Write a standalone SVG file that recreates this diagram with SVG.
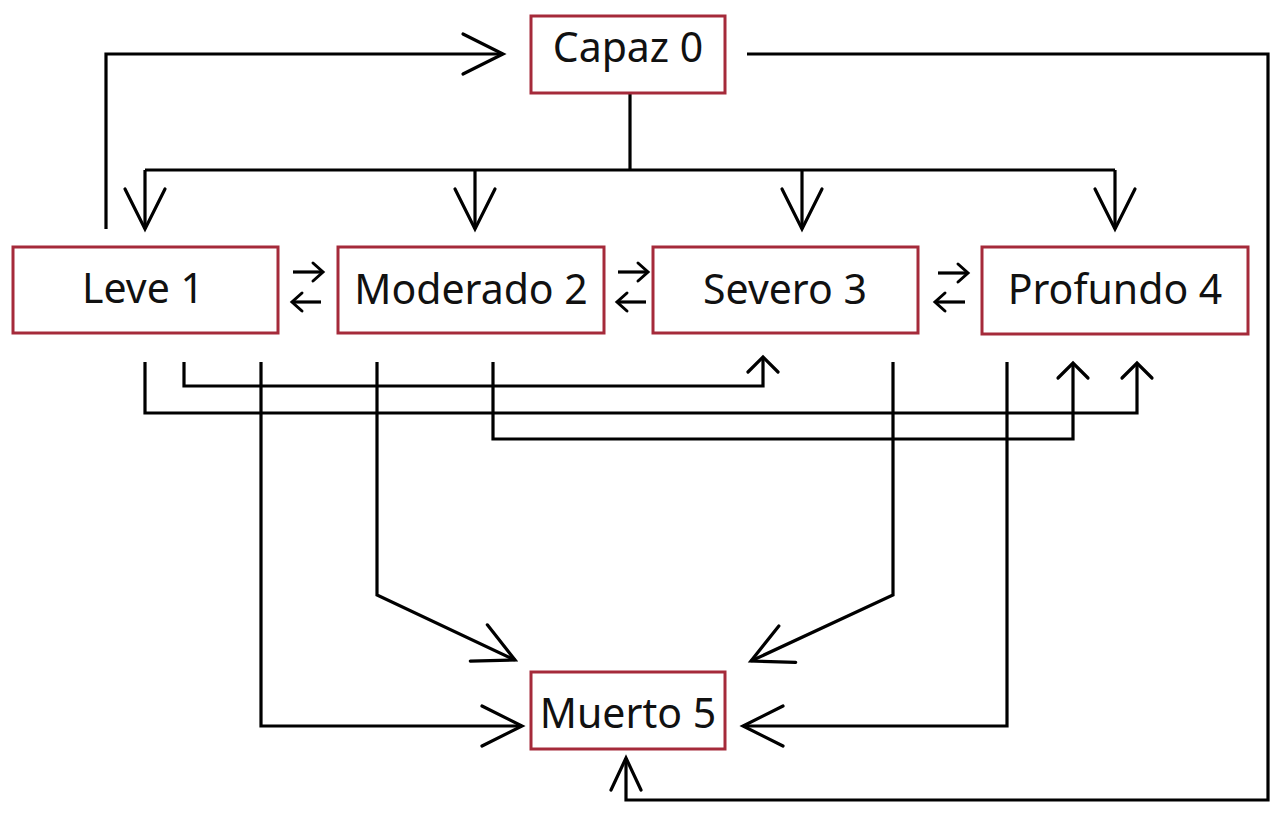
<svg xmlns="http://www.w3.org/2000/svg" width="1280" height="832" viewBox="0 0 1280 832">
<style>
.box{fill:#ffffff;stroke:#a52a3a;stroke-width:3}
.lbl{font-family:"Noto Sans","Liberation Sans",sans-serif;font-size:41px;font-weight:400;fill:#111111;text-anchor:middle}
.c{fill:none;stroke:#000000;stroke-width:3.2;stroke-linejoin:miter}
.big{marker-end:url(#big)}
.med{marker-end:url(#med)}
.sm{marker-end:url(#sm)}
.xs{marker-end:url(#xs)}
</style>
<defs>
<marker id="big" markerUnits="userSpaceOnUse" viewBox="-44 -24 48 48" markerWidth="48" markerHeight="48" refX="0" refY="0" orient="auto" overflow="visible">
<path d="M-40,-20 L0,0 L-40,20" fill="none" stroke="#000" stroke-width="3.2" stroke-linecap="round"/>
</marker>
<marker id="med" markerUnits="userSpaceOnUse" viewBox="-36 -20 40 40" markerWidth="40" markerHeight="40" refX="0" refY="0" orient="auto" overflow="visible">
<path d="M-32,-15 L0,0 L-32,15" fill="none" stroke="#000" stroke-width="3.2" stroke-linecap="round"/>
</marker>
<marker id="sm" markerUnits="userSpaceOnUse" viewBox="-20 -20 24 40" markerWidth="24" markerHeight="40" refX="0" refY="0" orient="auto" overflow="visible">
<path d="M-15,-15 L0,0 L-15,15" fill="none" stroke="#000" stroke-width="3.2" stroke-linecap="round"/>
</marker>
<marker id="xs" markerUnits="userSpaceOnUse" viewBox="-14 -12 18 24" markerWidth="18" markerHeight="24" refX="0" refY="0" orient="auto" overflow="visible">
<path d="M-10,-9 L0,0 L-10,9" fill="none" stroke="#000" stroke-width="3" stroke-linecap="round"/>
</marker>
</defs>
<rect width="1280" height="832" fill="#ffffff"/>
<g id="connectors">
<path class="c big" d="M106,229 V54 H503"/>
<path class="c med" d="M747,54 H1268 V800 H626 V758"/>
<path class="c" d="M630,93 V170"/>
<path class="c" d="M145,170 H1115"/>
<path class="c big" d="M145,170 V229"/>
<path class="c big" d="M475,170 V229"/>
<path class="c big" d="M802,170 V229"/>
<path class="c big" d="M1115,170 V229"/>
<path class="c xs" d="M293,272 H323"/>
<path class="c xs" d="M321,302 H292"/>
<path class="c xs" d="M618,272 H648"/>
<path class="c xs" d="M646,302 H617"/>
<path class="c xs" d="M938,273 H968"/>
<path class="c xs" d="M965,302 H935"/>
<path class="c sm" d="M145,362 V413 H1137 V363"/>
<path class="c sm" d="M184,362 V386 H763 V357"/>
<path class="c big" d="M261,362 V726 H522"/>
<path class="c big" d="M377,362 V595 L515,660"/>
<path class="c sm" d="M493,362 V439 H1073 V363"/>
<path class="c big" d="M893,362 V595 L751,661"/>
<path class="c big" d="M1007,362 V726 H743"/>
</g>
<g id="capaz0">
<rect class="box" x="531" y="16" width="194" height="77"/>
<text class="lbl" x="628" y="62">Capaz 0</text>
</g>
<g id="leve1">
<rect class="box" x="13" y="247" width="265" height="86"/>
<text class="lbl" x="143" y="303">Leve 1</text>
</g>
<g id="moderado2">
<rect class="box" x="338" y="247" width="266" height="86"/>
<text class="lbl" x="471" y="304">Moderado 2</text>
</g>
<g id="severo3">
<rect class="box" x="653" y="247" width="265" height="86"/>
<text class="lbl" x="785" y="304">Severo 3</text>
</g>
<g id="profundo4">
<rect class="box" x="982" y="247" width="266" height="87"/>
<text class="lbl" x="1115" y="304">Profundo 4</text>
</g>
<g id="muerto5">
<rect class="box" x="531" y="672" width="194" height="77"/>
<text class="lbl" x="628" y="728">Muerto 5</text>
</g>
</svg>
